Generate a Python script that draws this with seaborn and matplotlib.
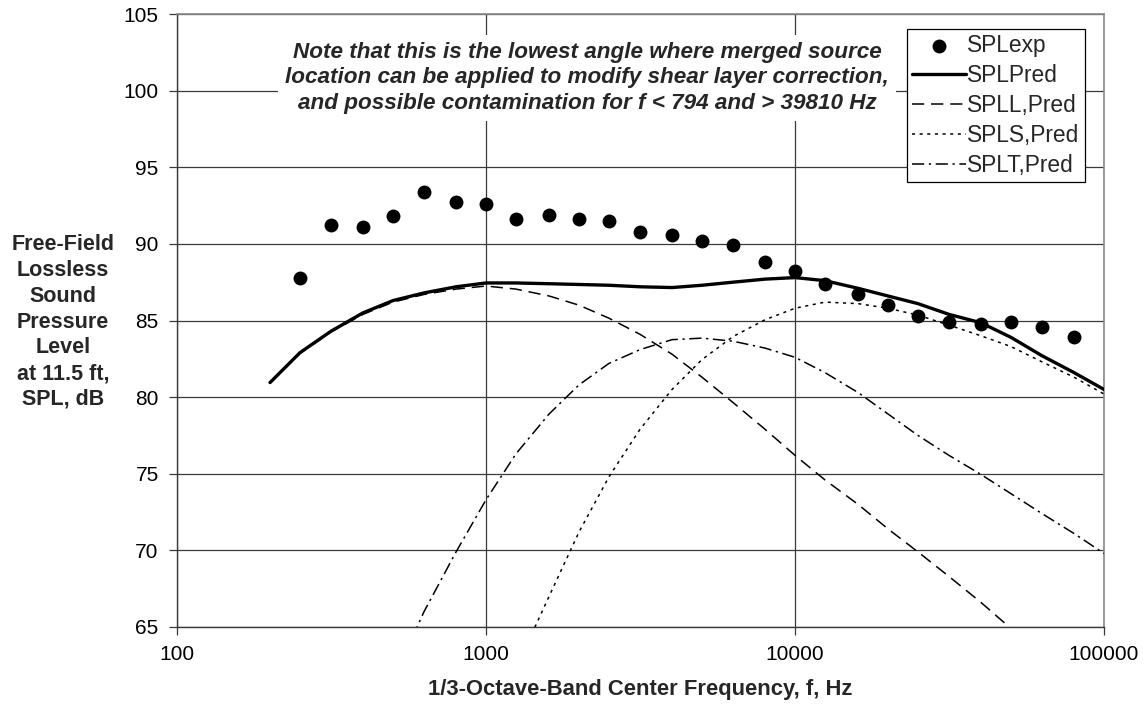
import matplotlib
matplotlib.use("Agg")
import matplotlib.pyplot as plt
import seaborn as sns
from matplotlib.ticker import FixedLocator, NullLocator

# 1/3-octave band centre frequencies, Hz
freq_pred = [200, 250, 315, 400, 500, 630, 800, 1000, 1250, 1600, 2000, 2500,
             3150, 4000, 5000, 6300, 8000, 10000, 12500, 16000, 20000, 25000,
             31500, 40000, 50000, 63000, 80000, 100000]

# Measured SPL (250 Hz .. 80 kHz)
freq_exp = freq_pred[1:-1]
spl_exp = [87.8, 91.2, 91.1, 91.8, 93.4, 92.7, 92.6, 91.6, 91.9, 91.6, 91.5,
           90.8, 90.6, 90.2, 89.9, 88.8, 88.2, 87.4, 86.7, 86.0, 85.3, 84.9,
           84.8, 84.9, 84.6, 83.9]

# Total predicted SPL
spl_pred = [80.95, 82.9, 84.3, 85.5, 86.3, 86.8, 87.2, 87.45, 87.45, 87.4,
            87.35, 87.3, 87.2, 87.15, 87.3, 87.5, 87.7, 87.8, 87.6, 87.1,
            86.6, 86.1, 85.4, 84.85, 83.9, 82.7, 81.6, 80.5]

# Large-scale component
spl_l = [80.9, 82.85, 84.25, 85.4, 86.2, 86.7, 87.05, 87.25, 87.05, 86.6,
         86.0, 85.15, 84.1, 82.8, 81.3, 79.65, 77.9, 76.2, 74.6, 73.0, 71.4,
         69.9, 68.3, 66.6, 64.9, 63.3, 61.6, 60.0]

# Small-scale component (1 kHz .. 100 kHz)
freq_s = freq_pred[7:]
spl_s = [57.0, 62.3, 67.0, 71.2, 74.8, 77.9, 80.5, 82.45, 83.95, 85.05, 85.8,
         86.2, 86.1, 85.8, 85.35, 84.7, 84.0, 83.3, 82.3, 81.3, 80.2]

# Transitional component (500 Hz .. 100 kHz)
freq_t = freq_pred[4:]
spl_t = [61.5, 66.0, 69.9, 73.3, 76.3, 78.9, 80.8, 82.2, 83.1, 83.75, 83.85,
         83.65, 83.2, 82.6, 81.6, 80.3, 78.9, 77.5, 76.2, 74.95, 73.7, 72.4,
         71.1, 69.8]

x_ticks = [100, 1000, 10000, 100000]
x_tick_labels = ["100", "1000", "10000", "100000"]
y_ticks = [65, 70, 75, 80, 85, 90, 95, 100, 105]

note = ("Note that this is the lowest angle where merged source\n"
        "location can be applied to modify shear layer correction,\n"
        "and possible contamination for f < 794 and > 39810 Hz")

sns.set_theme(style="white")
plt.rcParams["font.family"] = ["Liberation Sans", "DejaVu Sans"]

W, H = 1144, 711
fig = plt.figure(figsize=(W / 100, H / 100), dpi=100)
L, R, T, B = 177, 1104, 14, 627
ax = fig.add_axes([L / W, 1 - B / H, (R - L) / W, (B - T) / H])

sns.scatterplot(x=freq_exp, y=spl_exp, ax=ax, color="black", s=100,
                linewidth=0, label="SPLexp", zorder=6)
sns.lineplot(x=freq_pred, y=spl_pred, ax=ax, color="black", linewidth=2.4,
             label="SPLPred", zorder=5)
sns.lineplot(x=freq_pred, y=spl_l, ax=ax, color="black", linewidth=1.1,
             linestyle=(0, (8, 4.5)), label="SPLL,Pred", zorder=4)
sns.lineplot(x=freq_s, y=spl_s, ax=ax, color="black", linewidth=1.1,
             linestyle=(0, (2, 3)), label="SPLS,Pred", zorder=4)
sns.lineplot(x=freq_t, y=spl_t, ax=ax, color="black", linewidth=1.1,
             linestyle=(0, (8, 3, 1.5, 3)), label="SPLT,Pred", zorder=4)

ax.set_xscale("log")
ax.set_xlim(100, 100000)
ax.set_ylim(65, 105)
ax.xaxis.set_major_locator(FixedLocator(x_ticks))
ax.xaxis.set_minor_locator(NullLocator())
ax.set_xticklabels(x_tick_labels)
ax.yaxis.set_major_locator(FixedLocator(y_ticks))
ax.set_yticklabels([str(v) for v in y_ticks])

ax.set_axisbelow(True)
ax.grid(True, which="major", color="#3a3a3a", linewidth=0.9)
ax.tick_params(axis="both", which="major", bottom=True, left=True,
               direction="out", length=6, width=0.9, color="#3a3a3a",
               labelsize=15, labelcolor="black", pad=7.2)

for side in ("left", "bottom"):
    ax.spines[side].set_color("#3a3a3a")
    ax.spines[side].set_linewidth(1.0)
for side in ("top", "right"):
    ax.spines[side].set_color("#8a8a8a")
    ax.spines[side].set_linewidth(1.2)

ax.set_xlabel("1/3-Octave-Band Center Frequency, f, Hz", fontsize=15.8,
              fontweight="bold", va="center")
ax.xaxis.set_label_coords(0.5, -(690 - B) / (B - T))
ax.set_ylabel("Free-Field\nLossless\nSound\nPressure\nLevel\nat 11.5 ft,\nSPL, dB",
              fontsize=15.5, fontweight="bold", rotation=0, ha="center",
              va="center", linespacing=1.3)
ax.yaxis.set_label_coords((63 - L) / (R - L), (B - 322) / (B - T))

ax.text((587 - L) / (R - L), (B - 78) / (B - T), note, transform=ax.transAxes,
        ha="center", va="center", fontsize=16.2, fontweight="bold",
        fontstyle="italic", linespacing=1.3, zorder=3,
        bbox=dict(facecolor="white", edgecolor="none", pad=5))

handles, labels = ax.get_legend_handles_labels()
leg = ax.legend(handles, labels, loc="upper left",
                bbox_to_anchor=((907 - L) / (R - L), (B - 29) / (B - T)),
                borderaxespad=0, frameon=True, fancybox=False,
                framealpha=1, facecolor="white", edgecolor="black",
                fontsize=16.4, handlelength=2.35, handletextpad=0.05,
                borderpad=0.24, labelspacing=0.3)
leg.get_frame().set_linewidth(0.9)
leg.set_zorder(10)

fig.savefig("out.png", dpi=100)
